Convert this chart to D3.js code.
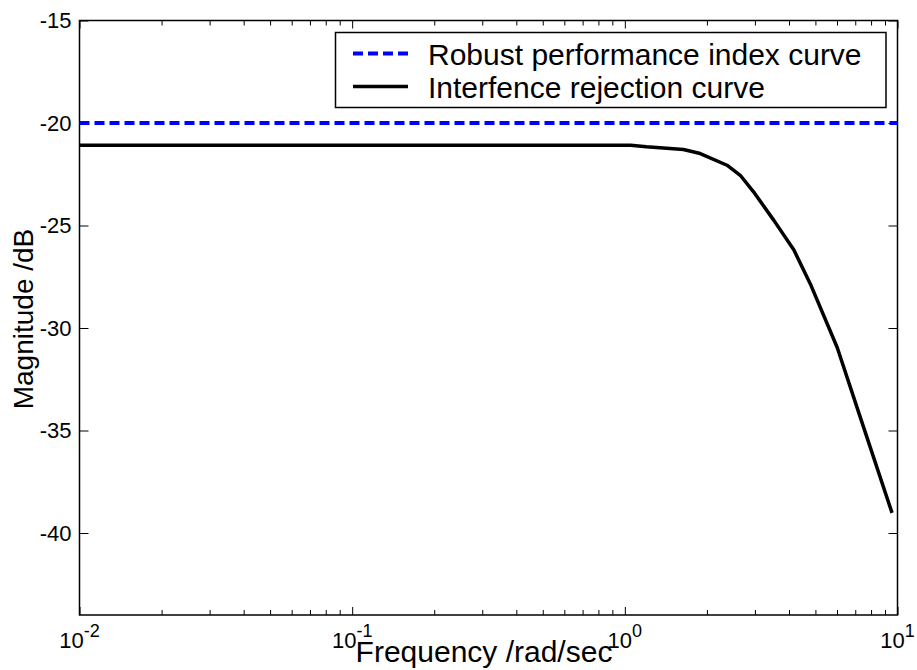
<!DOCTYPE html>
<html>
<head>
<meta charset="utf-8">
<script src="https://cdn.jsdelivr.net/npm/d3@7"></script>
<style>
  body { margin: 0; background: #fff; }
  svg text { font-family: "Liberation Sans", Arial, sans-serif; fill: #000; }
</style>
</head>
<body>
<svg id="chart" width="917" height="670"></svg>
<script>
// values
let freq = [0.01, 1.05, 1.2, 1.64, 1.89, 2.37, 2.65, 2.97, 3.52, 4.17, 4.79, 6.01, 7.31, 9.55];
let magRejection = [-21.08, -21.08, -21.16, -21.29, -21.49, -22.06, -22.55, -23.37, -24.75, -26.2, -27.85, -30.95, -34.37, -39.02];
let robustIndex = -20;
let yTicks = [-40, -35, -30, -25, -20, -15];
let xDecades = [-2, -1, 0, 1];
let legendLabels = ["Robust performance index curve", "Interfence rejection curve"];

let plotLeft = 79.5, plotRight = 897.5, plotTop = 20.5, plotBottom = 615;

let svg = d3.select("#chart");

let x = d3.scaleLog().domain([0.01, 10]).range([plotLeft, plotRight]);
let y = d3.scaleLinear().domain([-44, -15]).range([plotBottom, plotTop]);

let majorX = xDecades.map(d => Math.pow(10, d));
let minorX = [];
xDecades.slice(0, -1).forEach(d => {
    for (let k = 2; k <= 9; k++) minorX.push(k * Math.pow(10, d));
});

// ticks (all pointing inwards, like matlab)
function tickStyle(g) {
    g.select(".domain").remove();
    g.selectAll(".tick line").attr("stroke", "#000").attr("stroke-width", 1);
}

svg.append("g").attr("transform", `translate(0,${plotBottom})`)
    .call(d3.axisBottom(x).tickValues(majorX).tickSize(-8).tickFormat(""))
    .call(tickStyle);
svg.append("g").attr("transform", `translate(0,${plotBottom})`)
    .call(d3.axisBottom(x).tickValues(minorX).tickSize(-5).tickFormat(""))
    .call(tickStyle);
svg.append("g").attr("transform", `translate(0,${plotTop})`)
    .call(d3.axisTop(x).tickValues(majorX).tickSize(-8).tickFormat(""))
    .call(tickStyle);
svg.append("g").attr("transform", `translate(0,${plotTop})`)
    .call(d3.axisTop(x).tickValues(minorX).tickSize(-5).tickFormat(""))
    .call(tickStyle);

svg.append("g").attr("transform", `translate(${plotLeft},0)`)
    .call(d3.axisLeft(y).tickValues(yTicks).tickSize(-9).tickPadding(8).tickFormat(d => d))
    .call(tickStyle)
    .call(g => g.selectAll(".tick text")
        .attr("font-size", 22)
        .attr("font-family", "Liberation Sans, Arial, sans-serif")
        .attr("fill", "#000"));
svg.append("g").attr("transform", `translate(${plotRight},0)`)
    .call(d3.axisRight(y).tickValues(yTicks).tickSize(-9).tickFormat(""))
    .call(tickStyle);

// x tick labels 10^n
let xLab = svg.append("g").selectAll("text")
    .data(xDecades)
    .enter().append("text")
    .attr("x", d => x(Math.pow(10, d)))
    .attr("y", 648)
    .attr("text-anchor", "middle")
    .attr("font-size", 22);
xLab.append("tspan").text("10");
xLab.append("tspan").attr("dy", -11).attr("font-size", 18).text(d => d);

// frame
svg.append("rect")
    .attr("x", plotLeft).attr("y", plotTop)
    .attr("width", plotRight - plotLeft).attr("height", plotBottom - plotTop)
    .attr("fill", "none").attr("stroke", "#000").attr("stroke-width", 1.5);

// curves
svg.append("line")
    .attr("x1", x(0.01)).attr("x2", x(10))
    .attr("y1", y(robustIndex)).attr("y2", y(robustIndex))
    .attr("stroke", "#0000ff").attr("stroke-width", 4)
    .attr("stroke-dasharray", "10,5");

let line = d3.line()
    .x((d, i) => x(freq[i]))
    .y(d => y(d));

svg.append("path")
    .datum(magRejection)
    .attr("d", line)
    .attr("fill", "none")
    .attr("stroke", "#000")
    .attr("stroke-width", 3.5)
    .attr("stroke-linejoin", "round");

// legend
let legend = svg.append("g");
legend.append("rect")
    .attr("x", 335.5).attr("y", 32.5)
    .attr("width", 550.5).attr("height", 75)
    .attr("fill", "#fff").attr("stroke", "#000").attr("stroke-width", 1.5);

let rows = [53.5, 86.5];
legend.append("line")
    .attr("x1", 353).attr("x2", 408).attr("y1", rows[0]).attr("y2", rows[0])
    .attr("stroke", "#0000ff").attr("stroke-width", 4).attr("stroke-dasharray", "10,5");
legend.append("line")
    .attr("x1", 353).attr("x2", 408).attr("y1", rows[1]).attr("y2", rows[1])
    .attr("stroke", "#000").attr("stroke-width", 3.5);

legend.selectAll(".legText")
    .data(legendLabels)
    .enter().append("text")
    .attr("class", "legText")
    .attr("x", 428)
    .attr("y", (d, i) => rows[i] + 11)
    .attr("font-size", 30)
    .text(d => d);

// axis labels
svg.append("text")
    .attr("x", 484).attr("y", 662)
    .attr("text-anchor", "middle")
    .attr("font-size", 30)
    .text("Frequency /rad/sec");

svg.append("text")
    .attr("transform", "translate(33,319) rotate(-90)")
    .attr("text-anchor", "middle")
    .attr("font-size", 28)
    .text("Magnitude /dB");
</script>
</body>
</html>
